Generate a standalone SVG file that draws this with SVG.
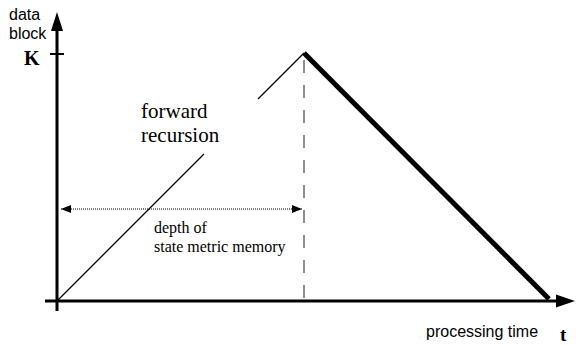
<svg xmlns="http://www.w3.org/2000/svg" width="576" height="345" viewBox="0 0 576 345">
<defs>
<marker id="ah" viewBox="0 0 10 10" refX="10" refY="5" markerWidth="10" markerHeight="10" markerUnits="userSpaceOnUse" orient="auto-start-reverse"><path d="M0,1 L10,5 L0,9 z" fill="#000"/></marker>
<style>
.sans{font-family:"Liberation Sans",Arial,sans-serif;font-size:16px;fill:#000}
.serif{font-family:"Liberation Serif","Times New Roman",serif;fill:#000}
</style>
</defs>
<rect width="576" height="345" fill="#fff"/>
<g id="axes">
<line x1="57" y1="311" x2="57" y2="30" stroke="#000" stroke-width="3"/>
<path d="M57,12 L51,31 L63,31 z" fill="#000"/>
<line x1="45" y1="301" x2="558" y2="301" stroke="#000" stroke-width="3"/>
<path d="M575,301 L556,294.5 L556,307.5 z" fill="#000"/>
<line x1="50" y1="54" x2="64" y2="54" stroke="#000" stroke-width="2"/>
</g>
<g id="connectors">
<line x1="57" y1="301" x2="204" y2="154" stroke="#000" stroke-width="1.3"/>
<line x1="258" y1="99" x2="304" y2="53" stroke="#000" stroke-width="1.3"/>
<line x1="304" y1="53" x2="549" y2="299" stroke="#000" stroke-width="5"/>
<line x1="304" y1="60" x2="304" y2="301" stroke="#555" stroke-width="1.3" stroke-dasharray="13,12"/>
<line x1="61" y1="209" x2="302" y2="209" stroke="#000" stroke-width="1" stroke-dasharray="1,1" marker-start="url(#ah)" marker-end="url(#ah)"/>
</g>
<g id="labels">
<text class="sans" x="9" y="20">data</text>
<text class="sans" x="9" y="39">block</text>
<text class="serif" x="24" y="65" font-size="20" font-weight="bold">K</text>
<text class="serif" x="141" y="118" font-size="21">forward</text>
<text class="serif" x="141" y="142" font-size="21">recursion</text>
<text class="serif" x="154" y="233" font-size="16">depth of</text>
<text class="serif" x="154" y="252" font-size="16">state metric memory</text>
<text class="sans" x="426" y="337">processing time</text>
<text class="serif" x="560" y="341" font-size="19" font-weight="bold">t</text>
</g>
</svg>
